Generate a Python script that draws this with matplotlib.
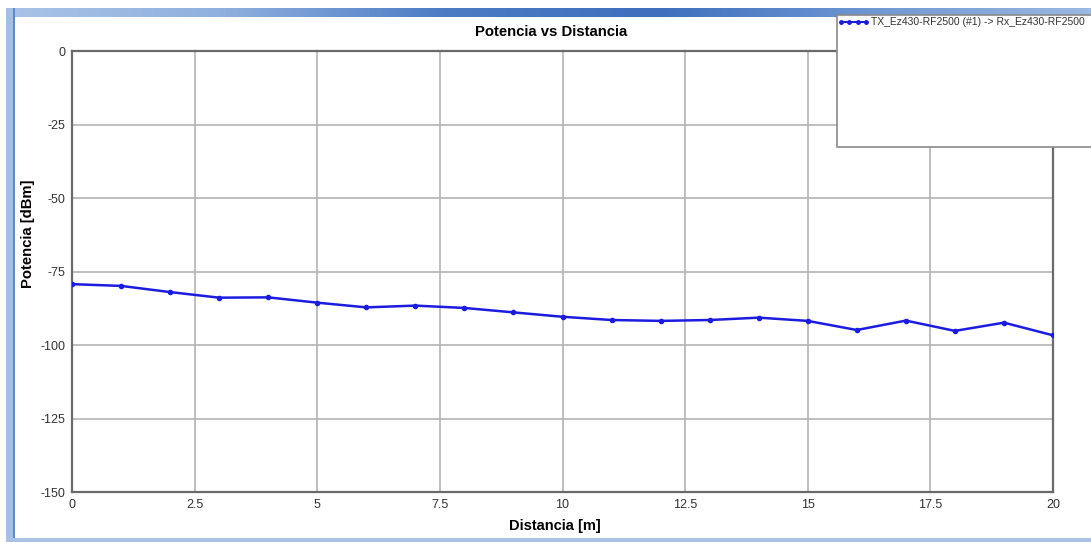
import numpy as np
import matplotlib
matplotlib.use("Agg")
import matplotlib.pyplot as plt
from matplotlib.patches import Rectangle
from matplotlib.lines import Line2D
from matplotlib.colors import LinearSegmentedColormap

# datos
distancia = list(range(21))
potencia = [-79.3, -79.9, -82.0, -83.9, -83.8, -85.6, -87.2, -86.6, -87.4, -88.9,
            -90.4, -91.5, -91.8, -91.5, -90.7, -91.8, -94.9, -91.7, -95.2, -92.4, -96.7]
x_ticks = [0, 2.5, 5, 7.5, 10, 12.5, 15, 17.5, 20]
x_labels = ["0", "2.5", "5", "7.5", "10", "12.5", "15", "17.5", "20"]
y_ticks = [0, -25, -50, -75, -100, -125, -150]
y_labels = ["0", "-25", "-50", "-75", "-100", "-125", "-150"]
serie = "TX_Ez430-RF2500 (#1) -> Rx_Ez430-RF2500"

W, H = 1091, 542
fig = plt.figure(figsize=(W / 100, H / 100), dpi=100)
fig.patch.set_facecolor("white")

tick_font = ["Liberation Sans Narrow", "Liberation Sans", "DejaVu Sans"]
bold_font = ["Liberation Sans", "DejaVu Sans"]

# marco de la ventana
frame = fig.add_axes([6 / W, 1 - 17 / H, 1 - 6 / W, 9 / H])
grad = np.linspace(0, 1, 256).reshape(1, -1)
cm = LinearSegmentedColormap.from_list("bar", ["#a9c3e6", "#8fb0de", "#4d7cc4", "#3f6fbd", "#6f97d2", "#9ab9e3"])
frame.imshow(grad, aspect="auto", cmap=cm, extent=[0, 1, 0, 1])
frame.set_axis_off()
fig.patches.append(Rectangle((6 / W, 0), 7 / W, 1 - 8 / H, transform=fig.transFigure,
                             facecolor="#a4bfe4", edgecolor="none", zorder=1))
fig.patches.append(Rectangle((13 / W, 0), 2 / W, 1 - 8 / H, transform=fig.transFigure,
                             facecolor="#5f88c8", edgecolor="none", zorder=1))
fig.patches.append(Rectangle((6 / W, 0), 1 - 6 / W, 4 / H, transform=fig.transFigure,
                             facecolor="#a9c2e4", edgecolor="none", zorder=1))

ax = fig.add_axes([72 / W, (H - 492) / H, (1053 - 72) / W, (492 - 51) / H])
ax.plot(distancia, potencia, color="#1c1ce0", lw=1.8, marker="o", ms=3, zorder=3)
ax.set_xlim(0, 20)
ax.set_ylim(-150, 0)
ax.set_xticks(x_ticks)
ax.set_xticklabels(x_labels)
ax.set_yticks(y_ticks)
ax.set_yticklabels(y_labels)
ax.grid(True, color="#b4b4b4", lw=1.2)
ax.set_axisbelow(True)
for s in ax.spines.values():
    s.set_color("#6a6a6a")
    s.set_linewidth(1.6)
ax.tick_params(length=0, pad=5, labelsize=9, labelcolor="#333333")
for lab in ax.get_xticklabels() + ax.get_yticklabels():
    lab.set_family(tick_font)

fig.text(551 / W, 1 - 32 / H, "Potencia vs Distancia", ha="center", va="center",
         fontsize=10.7, fontweight="bold", family=bold_font)
fig.text(555 / W, 1 - 526 / H, "Distancia [m]", ha="center", va="center",
         fontsize=10.5, fontweight="bold", family=bold_font)
fig.text(28 / W, 1 - 234 / H, "Potencia [dBm]", ha="center", va="center", rotation=90,
         fontsize=10.7, fontweight="bold", family=bold_font)

# cuadro de leyenda (sale por el borde derecho)
fig.patches.append(Rectangle((837 / W, 1 - 147 / H), (W - 837 + 20) / W, (147 - 15) / H,
                             transform=fig.transFigure, facecolor="white",
                             edgecolor="#8a8a8a", lw=1.2, zorder=5))
fig.lines.append(Line2D([841 / W, 866 / W], [1 - 22 / H, 1 - 22 / H], transform=fig.transFigure,
                        color="#1c1ce0", lw=1.5, marker="o", ms=2.5, zorder=6))
fig.lines.append(Line2D([849 / W, 858 / W], [1 - 22 / H, 1 - 22 / H], transform=fig.transFigure,
                        color="#1c1ce0", lw=0, marker="o", ms=2.5, zorder=6))
fig.text(871 / W, 1 - 22 / H, serie, ha="left", va="center", fontsize=7.5,
         color="#333333", family=tick_font, zorder=7)

fig.savefig("out.png", dpi=100)
